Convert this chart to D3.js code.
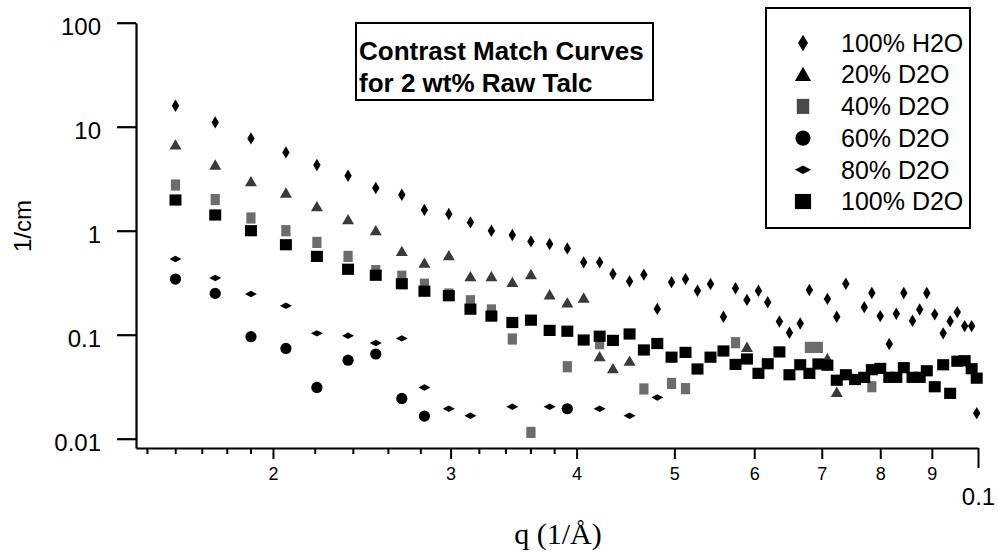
<!DOCTYPE html>
<html>
<head>
<meta charset="utf-8">
<script src="https://cdn.jsdelivr.net/npm/d3@7"></script>
<style>
  html, body { margin: 0; padding: 0; background: #fff; }
  svg { display: block; font-family: "Liberation Sans", Arial, sans-serif; }
</style>
</head>
<body>
<svg id="chart" width="999" height="553"></svg>
<script>
// q values (1/Å) shared by all the series
const qValues = [
  0.01601, 0.01753, 0.01902, 0.02060, 0.02211, 0.02374, 0.02529, 0.02684, 0.02826, 0.02988,
  0.03139, 0.03293, 0.03454, 0.03604, 0.03761, 0.03916, 0.04065, 0.04216, 0.04346, 0.04514,
  0.04664, 0.04809, 0.04968, 0.05129, 0.05271, 0.05430, 0.05593, 0.05749, 0.05901, 0.06058,
  0.06188, 0.06355, 0.06502, 0.06664, 0.06805, 0.06946, 0.07091, 0.07244, 0.07396, 0.07553,
  0.07713, 0.07848, 0.08000, 0.08166, 0.08299, 0.08442, 0.08611, 0.08754, 0.08897, 0.09060,
  0.09236, 0.09384, 0.09538, 0.09700, 0.09856, 0.09971
];

const h2o100 = [
  15.9, 11.0, 7.72, 5.66, 4.28, 3.38, 2.57, 2.22, 1.585, 1.447,
  1.202, 1.0, 0.909, 0.789, 0.745, 0.676, 0.496, 0.496, 0.384, 0.326,
  0.378, 0.177, 0.320, 0.343, 0.265, 0.307, 0.149, 0.280, 0.216, 0.265,
  0.205, 0.134, 0.1045, 0.128, 0.269, null, 0.221, 0.149, 0.309, null,
  0.184, 0.252, 0.151, 0.0814, 0.159, 0.252, 0.136, 0.175, 0.252, 0.157,
  0.103, 0.135, 0.165, 0.121, 0.121, 0.0176
];

const d2o20 = [
  6.67, 4.28, 2.96, 2.30, 1.70, 1.276, 1.0, 0.632, 0.487, 0.575,
  0.361, 0.361, 0.318, 0.378, 0.242, 0.202, 0.225, 0.0614, 0.0471, 0.0556,
  null, null, null, null, null, null, null, null, 0.0755, null,
  null, null, null, null, null, null, 0.0588, 0.0279, null, null,
  null, null, null, null, null, null, null, null, null, null,
  null, null, null, null, null, null
];

const d2o40 = [
  2.75, 1.99, 1.325, 1.0, 0.772, 0.566, 0.413, 0.365, 0.306, 0.246,
  0.212, 0.173, 0.0909, 0.0115, null, 0.0492, null, 0.0819, null, null,
  0.0301, null, 0.034, 0.0303, null, null, null, 0.0838, null, null,
  null, null, null, null, 0.0755, 0.0755, null, null, null, null,
  null, 0.0316, null, null, null, null, null, null, null, null,
  null, null, null, null, null, null
];

const d2o60 = [
  0.343, 0.2495, 0.0957, 0.0738, 0.0311, 0.0569, 0.0652, 0.0244, 0.0165, null,
  null, null, null, null, null, 0.0194, null, null, null, null,
  null, null, null, null, null, null, null, null, null, null,
  null, null, null, null, null, null, null, null, null, null,
  null, null, null, null, null, null, null, null, null, null,
  null, null, null, null, null, null
];

const d2o80 = [
  0.534, 0.351, 0.246, 0.190, 0.103, 0.0978, 0.0832, 0.0921, 0.0311, 0.0194,
  0.0166, null, 0.0203, null, 0.0203, 0.0194, null, 0.0194, null, 0.0166,
  null, 0.0249, null, null, null, null, null, null, null, null,
  null, null, null, null, null, null, null, null, null, null,
  null, null, null, null, null, null, null, null, null, null,
  null, null, null, null, null, null
];

const d2o100 = [
  1.973, 1.416, 1.0, 0.733, 0.566, 0.426, 0.373, 0.309, 0.262, 0.237,
  0.176, 0.151, 0.131, 0.138, 0.110, 0.108, 0.0889, 0.0967, 0.0882, 0.1016,
  0.0713, 0.0823, 0.0608, 0.0676, 0.0468, 0.0608, 0.0697, 0.0518, 0.0584, 0.0425,
  0.0526, 0.0683, 0.0412, 0.0514, 0.0425, 0.0523, 0.0509, 0.0365, 0.0412, 0.0371,
  0.0389, 0.0461, 0.0474, 0.0389, 0.0389, 0.0482, 0.0389, 0.0389, 0.0450, 0.0316,
  0.0514, 0.0273, 0.0556, 0.0562, 0.0471, 0.0382
];

const seriesNames = ['100% H2O', '20% D2O', '40% D2O', '60% D2O', '80% D2O', '100% D2O'];
const yTicks = [0.01, 0.1, 1, 10, 100];
const yTickLabels = ['0.01', '0.1', '1', '10', '100'];
const xMajorTicks = [0.02, 0.03, 0.04, 0.05, 0.06, 0.07, 0.08, 0.09];
const xMajorLabels = ['2', '3', '4', '5', '6', '7', '8', '9'];
const xMinorTicks = [0.015, 0.016, 0.017, 0.018, 0.019, 0.022, 0.024, 0.026, 0.028,
  0.032, 0.034, 0.036, 0.038];
const xEndTick = [0.1];
const xEndLabel = ['0.1'];

const svg = d3.select('#chart');
const x = d3.scaleLog().domain([0.01463, 0.1]).range([136, 978]);
const y = d3.scaleLog().domain([0.00814, 100]).range([448, 22.7]);

// marker outlines centred on 0,0; s scales them up for the legend
const markers = {
  tallDiamond: (s) => `M0,${-6.2 * s}L${3.7 * s},0L0,${6.2 * s}L${-3.7 * s},0Z`,
  triangle: (s) => `M0,${-5.8 * s}L${6 * s},${4.6 * s}L${-6 * s},${4.6 * s}Z`,
  smallSquare: (s) => `M${-4.6 * s},${-5.6 * s}h${9.2 * s}v${11.2 * s}h${-9.2 * s}Z`,
  circle: (s) => {
    const r = 5.6 * s;
    return `M${r},0A${r},${r} 0 1,1 ${-r},0A${r},${r} 0 1,1 ${r},0Z`;
  },
  flatDiamond: (s) => `M${-6 * s},0L0,${-3.2 * s}L${6 * s},0L0,${3.2 * s}Z`,
  bigSquare: (s) => `M${-6 * s},${-5.6 * s}h${12 * s}v${11.2 * s}h${-12 * s}Z`
};

const series = [
  { name: seriesNames[0], values: h2o100, shape: 'tallDiamond', fill: '#000', legendFill: '#000' },
  { name: seriesNames[1], values: d2o20, shape: 'triangle', fill: '#3a3a3a', legendFill: '#000' },
  { name: seriesNames[2], values: d2o40, shape: 'smallSquare', fill: '#6c6c6c', legendFill: '#4a4a4a' },
  { name: seriesNames[3], values: d2o60, shape: 'circle', fill: '#000', legendFill: '#000' },
  { name: seriesNames[4], values: d2o80, shape: 'flatDiamond', fill: '#000', legendFill: '#000' },
  { name: seriesNames[5], values: d2o100, shape: 'bigSquare', fill: '#000', legendFill: '#000' }
];

// y axis
const yAxis = svg.append('g')
  .attr('transform', 'translate(136,0)')
  .call(d3.axisLeft(y).tickValues(yTicks).tickFormat((d, i) => yTickLabels[i])
    .tickSize(19).tickPadding(16).tickSizeOuter(0));
yAxis.select('.domain').attr('stroke-width', 2.2);
yAxis.selectAll('.tick line').attr('stroke-width', 2.2);
yAxis.selectAll('.tick text').attr('font-size', 24).attr('fill', '#000').attr('dy', '0.5em')
  .attr('font-family', '"Liberation Sans", Arial, sans-serif');

// x axis: minor ticks carry the axis line, major ticks and the 0.1 end tick on top
const xMinor = svg.append('g')
  .attr('transform', 'translate(0,448)')
  .call(d3.axisBottom(x).tickValues(xMinorTicks).tickFormat('').tickSize(6).tickSizeOuter(0));
xMinor.select('.domain').attr('stroke-width', 2.2);
xMinor.selectAll('.tick line').attr('stroke-width', 2);

const xMajor = svg.append('g')
  .attr('transform', 'translate(0,448)')
  .call(d3.axisBottom(x).tickValues(xMajorTicks).tickFormat((d, i) => xMajorLabels[i])
    .tickSize(11).tickPadding(8));
xMajor.select('.domain').remove();
xMajor.selectAll('.tick line').attr('stroke-width', 2);
xMajor.selectAll('.tick text').attr('font-size', 18).attr('fill', '#000')
  .attr('font-family', '"Liberation Sans", Arial, sans-serif');

const xEnd = svg.append('g')
  .attr('transform', 'translate(0,448)')
  .call(d3.axisBottom(x).tickValues(xEndTick).tickFormat((d, i) => xEndLabel[i])
    .tickSize(20).tickPadding(20));
xEnd.select('.domain').remove();
xEnd.selectAll('.tick line').attr('stroke-width', 2);
xEnd.selectAll('.tick text').attr('font-size', 24).attr('fill', '#000')
  .attr('font-family', '"Liberation Sans", Arial, sans-serif');

// axis titles
svg.append('text')
  .attr('transform', 'translate(31,226) rotate(-90)')
  .attr('text-anchor', 'middle')
  .attr('font-size', 24)
  .text('1/cm');

svg.append('text')
  .attr('x', 558)
  .attr('y', 544)
  .attr('text-anchor', 'middle')
  .attr('font-family', '"Liberation Serif", "Times New Roman", serif')
  .attr('font-size', 30)
  .text('q (1/Å)');

// data points
series.forEach((s) => {
  const pts = qValues.map((q, i) => ({ q, v: s.values[i] })).filter((d) => d.v != null);
  svg.append('g')
    .selectAll('path')
    .data(pts)
    .join('path')
    .attr('transform', (d) => `translate(${x(d.q)},${y(d.v)})`)
    .attr('d', markers[s.shape](1))
    .attr('fill', s.fill);
});

// title box
const titleBox = svg.append('g');
titleBox.append('rect')
  .attr('x', 356).attr('y', 23).attr('width', 297).attr('height', 77)
  .attr('fill', '#fff').attr('stroke', '#000').attr('stroke-width', 2);
['Contrast Match Curves', 'for 2 wt% Raw Talc'].forEach((line, i) => {
  titleBox.append('text')
    .attr('x', 359)
    .attr('y', 60 + i * 32)
    .attr('font-size', 26)
    .attr('font-weight', 'bold')
    .text(line);
});

// legend
const legend = svg.append('g');
legend.append('rect')
  .attr('x', 766).attr('y', 8).attr('width', 204).attr('height', 220)
  .attr('fill', '#fff').attr('stroke', '#000').attr('stroke-width', 2);
series.forEach((s, i) => {
  const row = legend.append('g').attr('transform', `translate(0,${43 + i * 31.7})`);
  row.append('path')
    .attr('transform', 'translate(803,0)')
    .attr('d', markers[s.shape](1.35))
    .attr('fill', s.legendFill);
  row.append('text')
    .attr('x', 841)
    .attr('dy', '0.35em')
    .attr('font-size', 25)
    .text(s.name);
});
</script>
</body>
</html>
